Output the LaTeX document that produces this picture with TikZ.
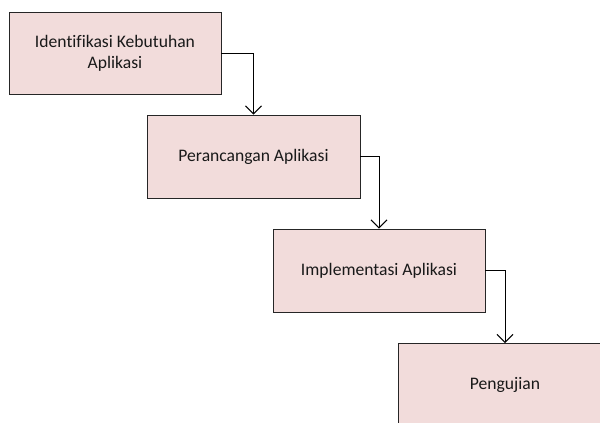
\documentclass[tikz,border=0pt]{standalone}
\usepackage{fontspec}
\setmainfont[Ligatures=CommonOff]{Carlito}
\usetikzlibrary{arrows.meta}
\definecolor{boxfill}{HTML}{F2DCDB}
\definecolor{boxline}{HTML}{262626}
\begin{document}
\begin{tikzpicture}[x=1pt,y=-1pt,
  stage/.style={draw=boxline, line width=0.9pt, fill=boxfill, minimum width=212pt, minimum height=83pt,
    inner sep=0pt, align=center, font=\fontsize{17.6}{21}\selectfont, text=black!90},
  flow/.style={draw=black, line width=1pt, -{Straight Barb[length=8pt,width=16pt,line width=1pt]}}]
\useasboundingbox (0,0) rectangle (600,423);
\clip (0,0) rectangle (600,423);
\node[stage, minimum height=82pt] (b1) at (115,53) {Identifikasi Kebutuhan\\Aplikasi};
\node[stage, minimum width=213pt] (b2) at (253.5,156.5) {Perancangan Aplikasi};
\node[stage] (b3) at (379,270.5) {Implementasi Aplikasi};
\node[stage, minimum width=214pt] (b4) at (505,385) {Pengujian};
\draw[flow] (b1.east) -| (b2.north);
\draw[flow] (b2.east) -| (b3.north);
\draw[flow] (b3.east) -| (b4.north);
\end{tikzpicture}
\end{document}
